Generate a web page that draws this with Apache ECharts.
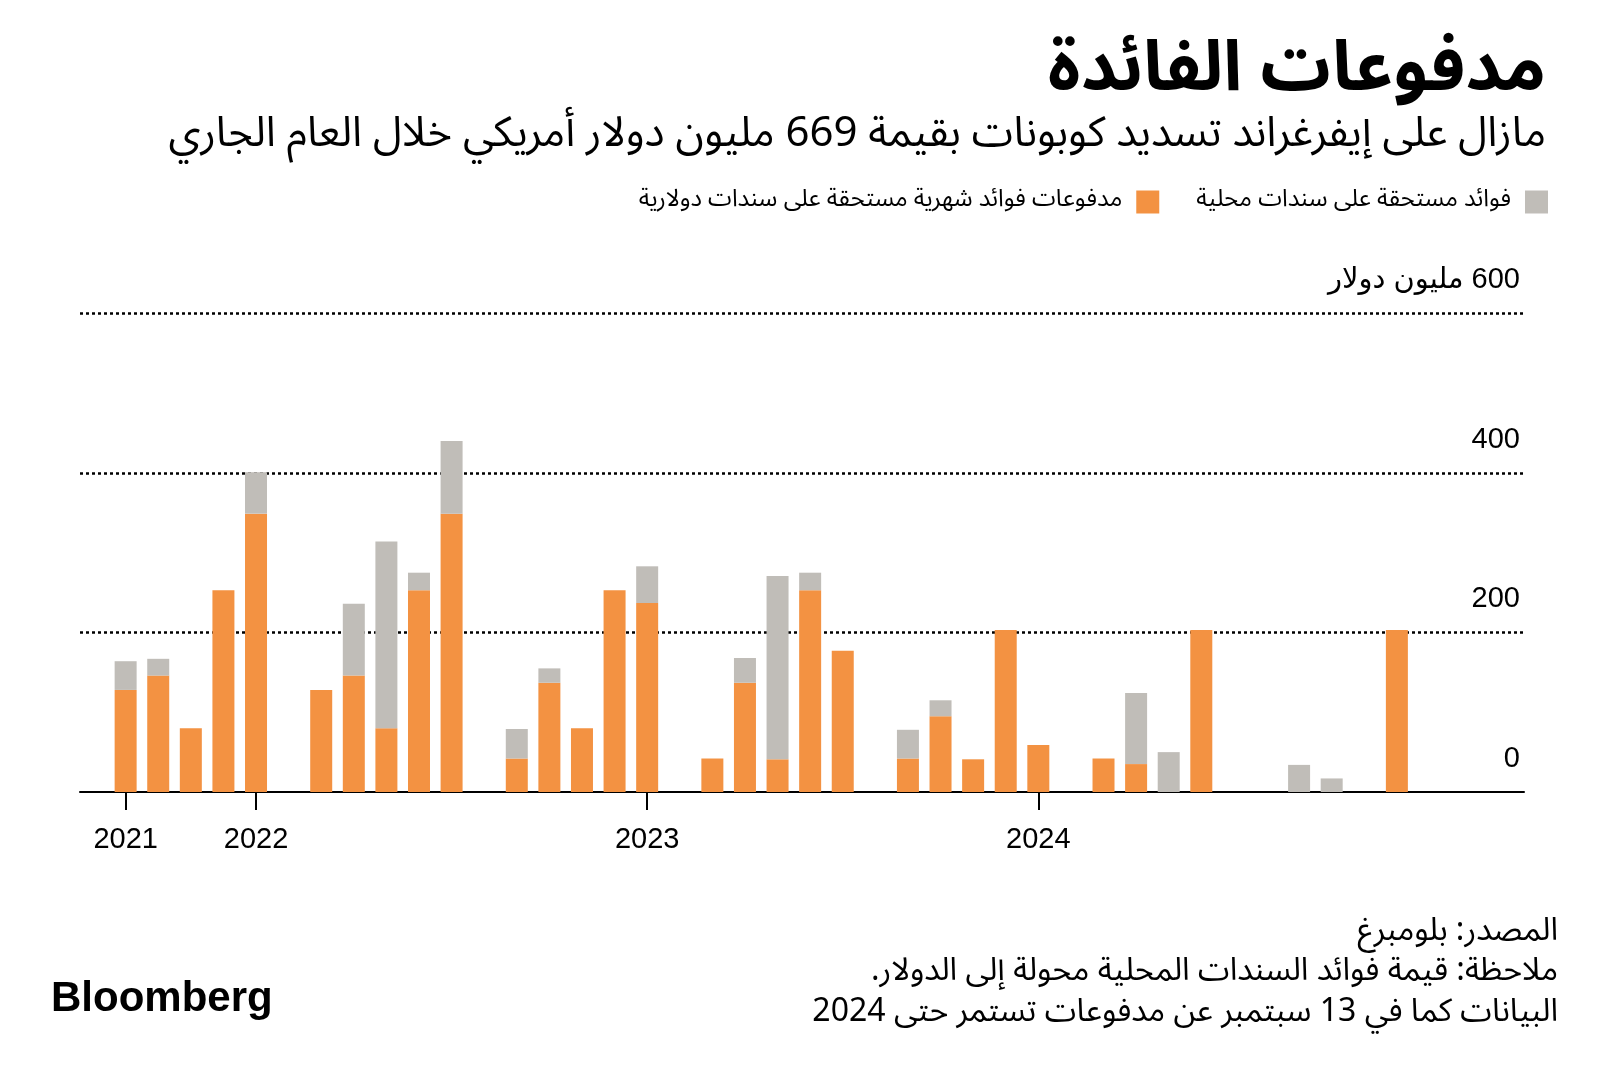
<!DOCTYPE html>
<html>
<head>
<meta charset="utf-8">
<script src="https://cdn.jsdelivr.net/npm/echarts@6/dist/echarts.min.js"></script>
<style>
html,body{margin:0;padding:0;background:#fff;}
#chart{width:1600px;height:1075px;}
</style>
</head>
<body>
<div id="chart"></div>
<script>
// ---- data ----
const months = [
  '2021-09','2021-10','2021-11','2021-12',
  '2022-01','2022-02','2022-03','2022-04','2022-05','2022-06','2022-07','2022-08','2022-09','2022-10','2022-11','2022-12',
  '2023-01','2023-02','2023-03','2023-04','2023-05','2023-06','2023-07','2023-08','2023-09','2023-10','2023-11','2023-12',
  '2024-01','2024-02','2024-03','2024-04','2024-05','2024-06','2024-07','2024-08','2024-09','2024-10','2024-11','2024-12'
];
// monthly interest payments due on dollar bonds (USD mn)
const dollarBondPayments = [
  128,146,80,253,
  349,0,128,146,80,253,349,0,42,137,80,253,
  237,0,42,137,41,253,177,0,42,95,41,203,
  59,0,42,35,0,203,0,0,0,0,0,203
];
// interest due on local bonds (USD mn)
const localBondInterest = [
  36,21,0,0,
  52,0,0,90,234,22,91,0,37,18,0,0,
  46,0,0,31,230,22,0,0,36,20,0,0,
  0,0,0,89,50,0,0,0,34,17,0,0
];
const yearTickMonths = ['2021-09','2022-01','2023-01','2024-01'];
const yearTickLabels = ['2021','2022','2023','2024'];
const yTicks = [0,200,400,600];

const seriesNames = ['مدفوعات فوائد شهرية مستحقة على سندات دولارية','فوائد مستحقة على سندات محلية'];
const RLM = '\u200F';
const titleText = 'مدفوعات الفائدة';
const subtitleText = 'مازال على إيفرغراند تسديد كوبونات بقيمة 669 مليون دولار أمريكي خلال العام الجاري';
const footerLines = ['المصدر: بلومبرغ','ملاحظة: قيمة فوائد السندات المحلية محولة إلى الدولار.','البيانات كما في 13 سبتمبر عن مدفوعات تستمر حتى 2024'];
const unitText = 'مليون دولار';

// ---- helpers ----
// months counted from Jan 2022 (x axis is in months)
function monthIndex(s){const p=s.split('-');return (parseInt(p[0])-2022)*12+(parseInt(p[1])-1);}
const xs = months.map(monthIndex);
const tickXs = yearTickMonths.map(monthIndex);
const rtl = s => RLM + s + RLM;

const FONT = "'Liberation Sans','DejaVu Sans',sans-serif";
const AFONT = "'Noto Sans Arabic','DejaVu Sans','Liberation Sans',sans-serif";
const ORANGE = '#F39242';
const GREY = '#C0BDB8';

const footerTops = [919,959,1000];
const titles = [
  {text:rtl(titleText),right:54,top:44,padding:0,textStyle:{fontFamily:AFONT,fontSize:70,fontWeight:'bold',color:'#000'}},
  {text:rtl(subtitleText),right:54,top:119,padding:0,textStyle:{fontFamily:AFONT,fontSize:42,fontWeight:'normal',color:'#000'}},
  {text:'Bloomberg',left:51,top:978,padding:0,textStyle:{fontFamily:"'Liberation Sans',Arial,sans-serif",fontSize:42,fontWeight:'bold',color:'#000'}}
];
footerLines.forEach((l,i)=>titles.push({text:rtl(l),right:42,top:footerTops[i],padding:0,
  textStyle:{fontFamily:AFONT,fontSize:32,fontWeight:'normal',color:'#000'}}));

const chart = echarts.init(document.getElementById('chart'));
chart.setOption({
  animation:false,
  backgroundColor:'#fff',
  textStyle:{fontFamily:FONT,color:'#000'},
  title:titles,
  legend:{
    data:seriesNames,
    right:52,top:190,padding:0,
    icon:'rect',itemWidth:23,itemHeight:23,itemGap:37,
    align:'right',selectedMode:false,
    textStyle:{fontFamily:AFONT,fontSize:24,color:'#000',padding:[0,9,0,0]}
  },
  grid:{left:80,right:76,top:313.5,bottom:283},
  xAxis:{
    type:'value',min:-5.4,max:38.9,
    axisLine:{show:true,lineStyle:{color:'#000',width:2}},
    axisTick:{show:true,customValues:tickXs,length:18,lineStyle:{color:'#000',width:2}},
    axisLabel:{customValues:tickXs,margin:33,fontSize:29,color:'#000',fontFamily:FONT,
      formatter:function(v){const i=tickXs.indexOf(v);return i>=0?yearTickLabels[i]:'';}},
    splitLine:{show:false}
  },
  yAxis:{
    type:'value',min:0,max:600,interval:200,position:'right',
    axisLine:{show:false},axisTick:{show:false},
    splitLine:{show:true,showMinLine:false,lineStyle:{color:'#000',width:2.5,type:[3,3]}},
    axisLabel:{inside:true,margin:4,fontSize:29,color:'#000',verticalAlign:'bottom',padding:[0,0,19,0],
      fontFamily:FONT,
      formatter:function(v){return v===yTicks[yTicks.length-1]?RLM+v+' '+unitText+RLM:String(v);}}
  },
  series:[
    {name:seriesNames[0],type:'bar',stack:'total',barWidth:22,
     itemStyle:{color:ORANGE},
     encode:{x:1,y:0},
     data:xs.map((x,i)=>[dollarBondPayments[i],x])},
    {name:seriesNames[1],type:'bar',stack:'total',barWidth:22,
     itemStyle:{color:GREY},
     encode:{x:1,y:0},
     data:xs.map((x,i)=>[localBondInterest[i],x])}
  ]
});
</script>
</body>
</html>
